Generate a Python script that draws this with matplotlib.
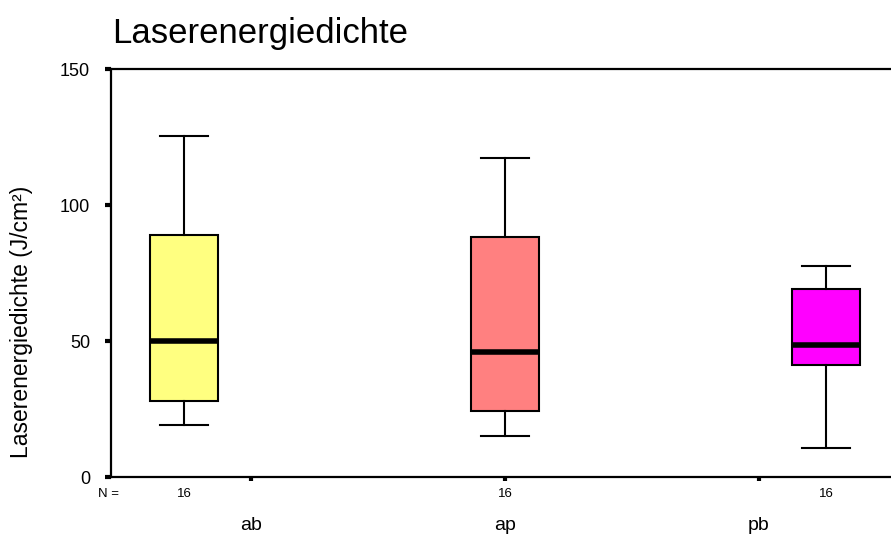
import matplotlib
matplotlib.use("Agg")
import matplotlib.pyplot as plt

plt.rcParams['font.family'] = ['Liberation Sans', 'DejaVu Sans']

# box statistics read per group (J/cm²)
groups = ['ab', 'ap', 'pb']
n_cases = [16, 16, 16]
whislo = [19.0, 15.1, 10.6]
q1 = [28.0, 24.3, 41.2]
med = [50.1, 46.0, 48.7]
q3 = [89.1, 88.3, 69.2]
whishi = [125.5, 117.4, 77.8]
colors = ['#FFFF80', '#FF8080', '#FF00FF']

box_pos = [0, 1, 2]
label_pos = [0.209, 1.0, 1.791]

fig = plt.figure(figsize=(8.91, 5.34), dpi=100)
ax = fig.add_axes([111/891, 57/534, 779/891, 407.5/534])

stats = []
for i in range(len(groups)):
    stats.append(dict(label=groups[i], whislo=whislo[i], q1=q1[i], med=med[i],
                      q3=q3[i], whishi=whishi[i], fliers=[]))

bp = ax.bxp(stats, positions=box_pos, widths=0.213, patch_artist=True,
            showfliers=False, capwidths=0.15,
            boxprops=dict(linewidth=1.5, edgecolor='black'),
            whiskerprops=dict(linewidth=1.5, color='black'),
            capprops=dict(linewidth=1.5, color='black'),
            medianprops=dict(linewidth=4, color='black', solid_capstyle='butt'))
for patch, c in zip(bp['boxes'], colors):
    patch.set_facecolor(c)

ax.set_xlim(-0.227, 2.199)
ax.set_ylim(0, 150)

ax.spines[['right']].set_visible(False)
for s in ['left', 'bottom', 'top']:
    ax.spines[s].set_linewidth(1.6)

ax.set_yticks([0, 50, 100, 150])
ax.tick_params(axis='y', length=4, width=3, pad=11, labelsize=13)
ax.set_xticks(label_pos)
ax.set_xticklabels(groups)
ax.tick_params(axis='x', length=3, width=3, pad=26, labelsize=14)

# case counts under each box
for p, n in zip(box_pos, n_cases):
    ax.text(p, -6.3, str(n), ha='center', va='center', fontsize=9.5,
            clip_on=False)
ax.text(-0.235, -6.3, 'N =', ha='center', va='center', fontsize=9.5,
        clip_on=False)

fig.text(112/891, (534-33)/534, 'Laserenergiedichte', fontsize=25,
         ha='left', va='center')
fig.text(22/891, (534-322)/534, 'Laserenergiedichte (J/cm²)', fontsize=16.5,
         rotation=90, ha='center', va='center')

fig.savefig('out.png', dpi=100)
